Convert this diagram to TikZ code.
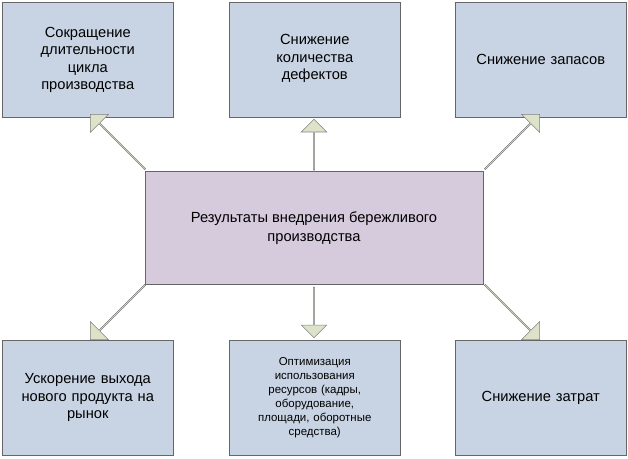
\documentclass[tikz,border=0pt]{standalone}
\usepackage{fontspec}
\setmainfont{Liberation Sans}
\usetikzlibrary{shapes.arrows}
\definecolor{boxfill}{HTML}{C8D4E4}
\definecolor{mainfill}{HTML}{D6CADD}
\definecolor{arrfill}{HTML}{DDE3C8}
\tikzset{
  goal/.style={draw=gray!80!black, fill=boxfill, minimum width=171*0.75pt, minimum height=115*0.75pt, align=center, text width=160*0.75pt, inner sep=0pt, font=\fontsize{11}{13}\selectfont},
  fat/.style={single arrow, draw=gray, fill=arrfill, minimum width=19pt, single arrow head extend=3.5pt, minimum height=58pt, inner sep=0pt}
}
\begin{document}
\begin{tikzpicture}[x=0.75pt,y=-0.75pt]
  \useasboundingbox (0,0) rectangle (628,458);
  % result boxes
  \node[goal, anchor=north west] (cycle) at (2,2) {Сокращение\\длительности\\цикла\\производства};
  \node[goal, anchor=north west, text depth=3em] (defects) at (229,2) {Снижение\\количества\\дефектов};
  \node[goal, anchor=north west] (stock) at (455,2) {Снижение запасов};
  \node[goal, anchor=north west] (market) at (2,340) {Ускорение выхода\\нового продукта на\\рынок};
  \node[goal, anchor=north west, font=\fontsize{8.6}{10.5}\selectfont] (usage) at (229,340) {Оптимизация\\использования\\ресурсов (кадры,\\оборудование,\\площади, оборотные\\средства)};
  \node[goal, anchor=north west] (costs) at (455,340) {Снижение затрат};
  % centre
  \node[draw=gray!80!black, fill=mainfill, minimum width=338*0.75pt, minimum height=113*0.75pt, align=center, font=\fontsize{11}{14}\selectfont] (lean) at (314,228) {Результаты внедрения бережливого\\производства};
  % block arrows
  \node[fat, rotate=135] (a1) at (118,142) {};
  \node[fat, rotate=90, minimum height=38pt] (a2) at (314,145) {};
  \node[fat, rotate=45] (a3) at (512,142) {};
  \node[fat, rotate=225] (a4) at (118,312) {};
  \node[fat, rotate=270, minimum height=38pt] (a5) at (314,312) {};
  \node[fat, rotate=-45] (a6) at (512,312) {};
\end{tikzpicture}
\end{document}
